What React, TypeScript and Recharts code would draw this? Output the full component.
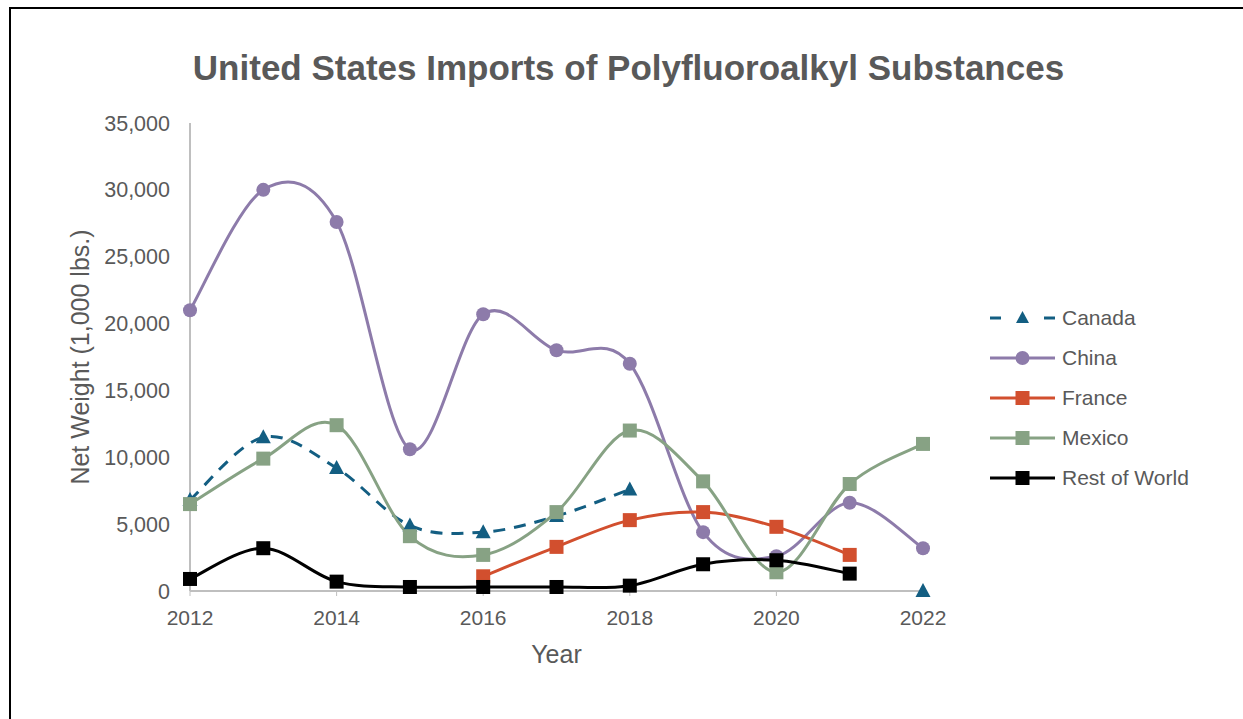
import React from 'react';
import { LineChart, Line, XAxis, YAxis, Legend } from 'recharts';

const years = [2012, 2013, 2014, 2015, 2016, 2017, 2018, 2019, 2020, 2021, 2022];
const canada = [6800, 11500, 9200, 4900, 4400, 5600, 7600, null, null, null, 0];
const china = [21000, 30000, 27600, 10600, 20700, 18000, 17000, 4400, 2600, 6600, 3200];
const france = [null, null, null, null, 1100, 3300, 5300, 5900, 4800, 2700, null];
const mexico = [6500, 9900, 12400, 4100, 2700, 5900, 12000, 8200, 1400, 8000, 11000];
const restOfWorld = [900, 3200, 700, 300, 300, 300, 400, 2000, 2300, 1300, null];
const xTicks = [2012, 2014, 2016, 2018, 2020, 2022];
const yTicks = [0, 5000, 10000, 15000, 20000, 25000, 30000, 35000];

const data = years.map((y, i) => ({
  year: y,
  Canada: canada[i],
  China: china[i],
  France: france[i],
  Mexico: mexico[i],
  'Rest of World': restOfWorld[i],
}));

const C_CANADA = '#135E82';
const C_CHINA = '#8D7BAA';
const C_FRANCE = '#D24F2E';
const C_MEXICO = '#87A284';
const C_ROW = '#000000';
const GRAY = '#595959';
const FONT = '"Liberation Sans", Arial, sans-serif';

// Excel-like smoothed line (Catmull-Rom as cubic Bezier)
const excelCurve = (context: any) => {
  let pts: number[][] = [];
  return {
    areaStart() {},
    areaEnd() {},
    lineStart() {
      pts = [];
    },
    lineEnd() {
      const n = pts.length;
      if (n === 0) return;
      context.moveTo(pts[0][0], pts[0][1]);
      if (n === 1) {
        context.lineTo(pts[0][0], pts[0][1]);
        return;
      }
      for (let i = 0; i < n - 1; i++) {
        const p0 = pts[Math.max(i - 1, 0)];
        const p1 = pts[i];
        const p2 = pts[i + 1];
        const p3 = pts[Math.min(i + 2, n - 1)];
        const c1x = p1[0] + (p2[0] - p0[0]) / 6;
        const c1y = p1[1] + (p2[1] - p0[1]) / 6;
        const c2x = p2[0] - (p3[0] - p1[0]) / 6;
        const c2y = p2[1] - (p3[1] - p1[1]) / 6;
        context.bezierCurveTo(c1x, c1y, c2x, c2y, p2[0], p2[1]);
      }
    },
    point(x: number, y: number) {
      pts.push([+x, +y]);
    },
  };
};

const squareDot = (color: string) => (props: any) => {
  const { cx, cy, index } = props;
  if (cx == null || cy == null || props.value == null || (Array.isArray(props.value) && props.value[1] == null)) return <g key={`s${index}`} />;
  return <rect key={`s${index}`} x={cx - 7} y={cy - 7} width={14} height={14} fill={color} />;
};
const circleDot = (color: string) => (props: any) => {
  const { cx, cy, index } = props;
  if (cx == null || cy == null) return <g key={`c${index}`} />;
  return <circle key={`c${index}`} cx={cx} cy={cy} r={7} fill={color} />;
};
const triDot = (color: string) => (props: any) => {
  const { cx, cy, index } = props;
  if (cx == null || cy == null) return <g key={`t${index}`} />;
  return (
    <polygon
      key={`t${index}`}
      points={`${cx},${cy - 8} ${cx + 7.5},${cy + 6} ${cx - 7.5},${cy + 6}`}
      fill={color}
    />
  );
};

const legendItems = [
  { name: 'Canada', color: C_CANADA, shape: 'tri', dash: true },
  { name: 'China', color: C_CHINA, shape: 'circle', dash: false },
  { name: 'France', color: C_FRANCE, shape: 'square', dash: false },
  { name: 'Mexico', color: C_MEXICO, shape: 'square', dash: false },
  { name: 'Rest of World', color: C_ROW, shape: 'square', dash: false },
];

const LegendContent = () => (
  <div style={{ fontFamily: FONT, fontSize: 21, color: GRAY }}>
    {legendItems.map((it) => (
      <div key={it.name} style={{ display: 'flex', alignItems: 'center', height: 40 }}>
        <svg width={72} height={20} style={{ display: 'block' }}>
          {it.dash ? (
            <g>
              <line x1={2} y1={10} x2={13} y2={10} stroke={it.color} strokeWidth={3} />
              <line x1={56} y1={10} x2={67} y2={10} stroke={it.color} strokeWidth={3} />
            </g>
          ) : (
            <line x1={2} y1={10} x2={67} y2={10} stroke={it.color} strokeWidth={3} />
          )}
          {it.shape === 'tri' && <polygon points="34.5,3 41,15 28,15" fill={it.color} />}
          {it.shape === 'circle' && <circle cx={34.5} cy={10} r={7} fill={it.color} />}
          {it.shape === 'square' && <rect x={27.5} y={3} width={14} height={14} fill={it.color} />}
        </svg>
        <span style={{ marginLeft: 2, whiteSpace: 'nowrap' }}>{it.name}</span>
      </div>
    ))}
  </div>
);

export default function App() {
  return (
    <div style={{ position: 'absolute', left: 0, top: 0, width: 1243, height: 719, overflow: 'hidden', background: '#fff' }}>
      <div
        style={{
          position: 'absolute',
          left: 9,
          top: 7,
          width: 1400,
          height: 900,
          borderTop: '2px solid #000',
          borderLeft: '2px solid #000',
        }}
      />
      <div
        style={{
          position: 'absolute',
          left: 0,
          width: 1257,
          top: 50,
          textAlign: 'center',
          fontFamily: FONT,
          fontWeight: 'bold',
          fontSize: 35,
          lineHeight: '35px',
          color: GRAY,
          whiteSpace: 'nowrap',
        }}
      >
        United States Imports of Polyfluoroalkyl Substances
      </div>
      <div style={{ position: 'absolute', left: 0, top: 0 }}>
        <LineChart
          width={1243}
          height={719}
          data={data}
          margin={{ top: 123, right: 320, bottom: 48, left: 0 }}
          style={{ fontFamily: FONT }}
        >
          <XAxis
            dataKey="year"
            type="number"
            domain={[2012, 2022]}
            ticks={xTicks}
            height={80}
            axisLine={{ stroke: '#BFBFBF', strokeWidth: 2 }}
            tickLine={{ stroke: '#BFBFBF' }}
            tickSize={5}
            tickMargin={14}
            tick={{ fill: GRAY, fontSize: 21 }}
            label={{ value: 'Year', position: 'insideBottom', offset: 8, fill: GRAY, fontSize: 25 }}
          />
          <YAxis
            type="number"
            domain={[0, 35000]}
            ticks={yTicks}
            width={190}
            axisLine={{ stroke: '#BFBFBF', strokeWidth: 2 }}
            tickLine={false}
            tickSize={0}
            tickMargin={20}
            tick={{ fill: GRAY, fontSize: 21.5 }}
            tickFormatter={(v: number) => v.toLocaleString('en-US')}
            label={{
              value: 'Net Weight (1,000 lbs.)',
              angle: -90,
              position: 'insideLeft',
              offset: 80,
              fill: GRAY,
              fontSize: 25,
              style: { textAnchor: 'middle' },
            }}
          />
          <Legend
            layout="horizontal"
            verticalAlign="middle"
            align="center"
            content={<LegendContent />}
            wrapperStyle={{ left: 988, top: 298, width: 250, height: 200 }}
          />
          <Line
            dataKey="Canada"
            type={excelCurve as any}
            stroke={C_CANADA}
            strokeWidth={3}
            strokeDasharray="12 9"
            dot={triDot(C_CANADA)}
            activeDot={false}
            isAnimationActive={false}
          />
          <Line
            dataKey="China"
            type={excelCurve as any}
            stroke={C_CHINA}
            strokeWidth={3}
            dot={circleDot(C_CHINA)}
            activeDot={false}
            isAnimationActive={false}
          />
          <Line
            dataKey="France"
            type={excelCurve as any}
            stroke={C_FRANCE}
            strokeWidth={3}
            dot={squareDot(C_FRANCE)}
            activeDot={false}
            isAnimationActive={false}
          />
          <Line
            dataKey="Mexico"
            type={excelCurve as any}
            stroke={C_MEXICO}
            strokeWidth={3}
            dot={squareDot(C_MEXICO)}
            activeDot={false}
            isAnimationActive={false}
          />
          <Line
            dataKey="Rest of World"
            type={excelCurve as any}
            stroke={C_ROW}
            strokeWidth={3}
            dot={squareDot(C_ROW)}
            activeDot={false}
            isAnimationActive={false}
          />
        </LineChart>
      </div>
    </div>
  );
}
